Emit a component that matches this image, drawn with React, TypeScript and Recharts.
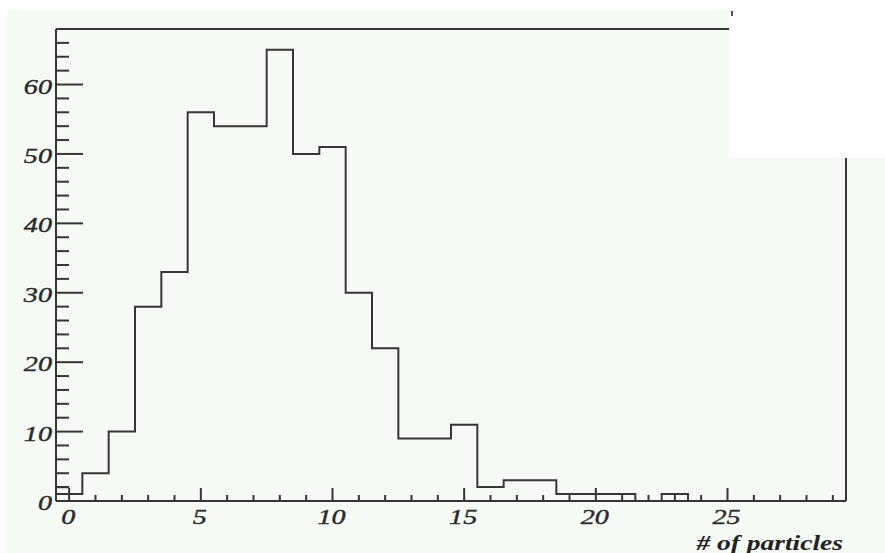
import React from 'react';
import { ComposedChart, Line, XAxis, YAxis, ReferenceLine } from 'recharts';

// ---- data ----
const binCenters = [0, 1, 2, 3, 4, 5, 6, 7, 8, 9, 10, 11, 12, 13, 14, 15, 16, 17, 18, 19, 20, 21, 22, 23, 24, 25, 26, 27, 28, 29];
const counts = [1, 4, 10, 28, 33, 56, 54, 54, 65, 50, 51, 30, 22, 9, 9, 11, 2, 3, 3, 1, 1, 1, 0, 1, 0, 0, 0, 0, 0, 0];
const xTicks = [0, 1, 2, 3, 4, 5, 6, 7, 8, 9, 10, 11, 12, 13, 14, 15, 16, 17, 18, 19, 20, 21, 22, 23, 24, 25, 26, 27, 28, 29];
const xLabelTicks = [0, 5, 10, 15, 20, 25];
const yTicks = [0, 2, 4, 6, 8, 10, 12, 14, 16, 18, 20, 22, 24, 26, 28, 30, 32, 34, 36, 38, 40, 42, 44, 46, 48, 50, 52, 54, 56, 58, 60, 62, 64, 66, 68];
const yLabelTicks = [0, 10, 20, 30, 40, 50, 60];
const markerX = [-0.5, 0];
const markerY = [2, 2];
const xTitle = '# of particles';

const X_MIN = -0.5;
const X_MAX = 29.5;
const Y_MAX = 68;

const histData = [
  { x: X_MIN, y: 0 },
  ...binCenters.map((c, i) => ({ x: c - 0.5, y: counts[i] })),
  { x: X_MAX, y: counts[counts.length - 1] },
];
const markerData = markerX.map((x, i) => ({ x, y: markerY[i] }));

const INK = '#363636';
const TEXT = '#2a2a2a';
const TINT = '#f5faf5';
const FONT = '"Liberation Serif", "Times New Roman", serif';

const XTick = (props: any) => {
  const { x, y, payload } = props;
  const v = payload.value;
  const major = xLabelTicks.includes(v);
  return (
    <g>
      <line x1={x} x2={x} y1={y} y2={y - (major ? 13 : 6)} stroke={INK} strokeWidth={2} />
      {major && (
        <text
          transform={`translate(${x - 1},${y + 23}) scale(1.28,1)`}
          textAnchor="middle"
          fontFamily={FONT}
          fontStyle="italic"
          fontSize={22}
          fill={TEXT}
          stroke={TEXT}
          strokeWidth={0.4}
        >
          {v}
        </text>
      )}
    </g>
  );
};

const YTick = (props: any) => {
  const { x, y, payload } = props;
  const v = payload.value;
  const major = yLabelTicks.includes(v);
  return (
    <g>
      <line x1={x} x2={x + (major ? 27 : 13)} y1={y} y2={y} stroke={INK} strokeWidth={2} />
      {major && (
        <text
          transform={`translate(${x - 4},${y + 9}) scale(1.28,1)`}
          textAnchor="end"
          fontFamily={FONT}
          fontStyle="italic"
          fontSize={22}
          fill={TEXT}
          stroke={TEXT}
          strokeWidth={0.4}
        >
          {v}
        </text>
      )}
    </g>
  );
};

const XTitle = (props: any) => {
  const vb = props.viewBox || { x: 56, y: 501, width: 790, height: 52 };
  const x = vb.x + vb.width - 3;
  const y = vb.y + 49;
  return (
    <text
      transform={`translate(${x},${y}) scale(1.25,1)`}
      textAnchor="end"
      fontFamily={FONT}
      fontStyle="italic"
      fontWeight="bold"
      fontSize={22}
      fill="#222222"
    >
      {xTitle}
    </text>
  );
};

export default function App() {
  return (
    <div style={{ position: 'fixed', left: 0, top: 0, width: 885, height: 553, background: '#ffffff', overflow: 'hidden' }}>
      <div style={{ position: 'absolute', left: 7, top: 10, right: 0, bottom: 0, background: TINT }} />
      <div style={{ position: 'absolute', left: 0, top: 0 }}>
        <ComposedChart width={885} height={553} margin={{ top: 29, right: 39, left: 0, bottom: 0 }}>
          <XAxis
            dataKey="x"
            type="number"
            domain={[X_MIN, X_MAX]}
            allowDataOverflow
            ticks={xTicks}
            interval={0}
            height={52}
            tickSize={0}
            tickMargin={0}
            tickLine={false}
            axisLine={{ stroke: INK, strokeWidth: 2 }}
            tick={<XTick />}
            label={{ content: <XTitle /> }}
          />
          <YAxis
            type="number"
            domain={[0, Y_MAX]}
            allowDataOverflow
            ticks={yTicks}
            interval={0}
            width={56}
            tickSize={0}
            tickMargin={0}
            tickLine={false}
            axisLine={{ stroke: INK, strokeWidth: 2 }}
            tick={<YTick />}
          />
          <ReferenceLine y={Y_MAX} stroke={INK} strokeWidth={2} />
          <ReferenceLine x={X_MAX} stroke={INK} strokeWidth={2} />
          <Line
            data={histData}
            dataKey="y"
            type="stepAfter"
            stroke={INK}
            strokeWidth={2}
            dot={false}
            activeDot={false}
            isAnimationActive={false}
          />
          <Line
            data={markerData}
            dataKey="y"
            type="linear"
            stroke={INK}
            strokeWidth={2}
            dot={false}
            activeDot={false}
            isAnimationActive={false}
          />
        </ComposedChart>
      </div>
      <div style={{ position: 'absolute', left: 729, top: 0, width: 156, height: 158, background: '#ffffff' }} />
      <div style={{ position: 'absolute', left: 731, top: 11, width: 2, height: 5, background: '#555555' }} />
    </div>
  );
}
